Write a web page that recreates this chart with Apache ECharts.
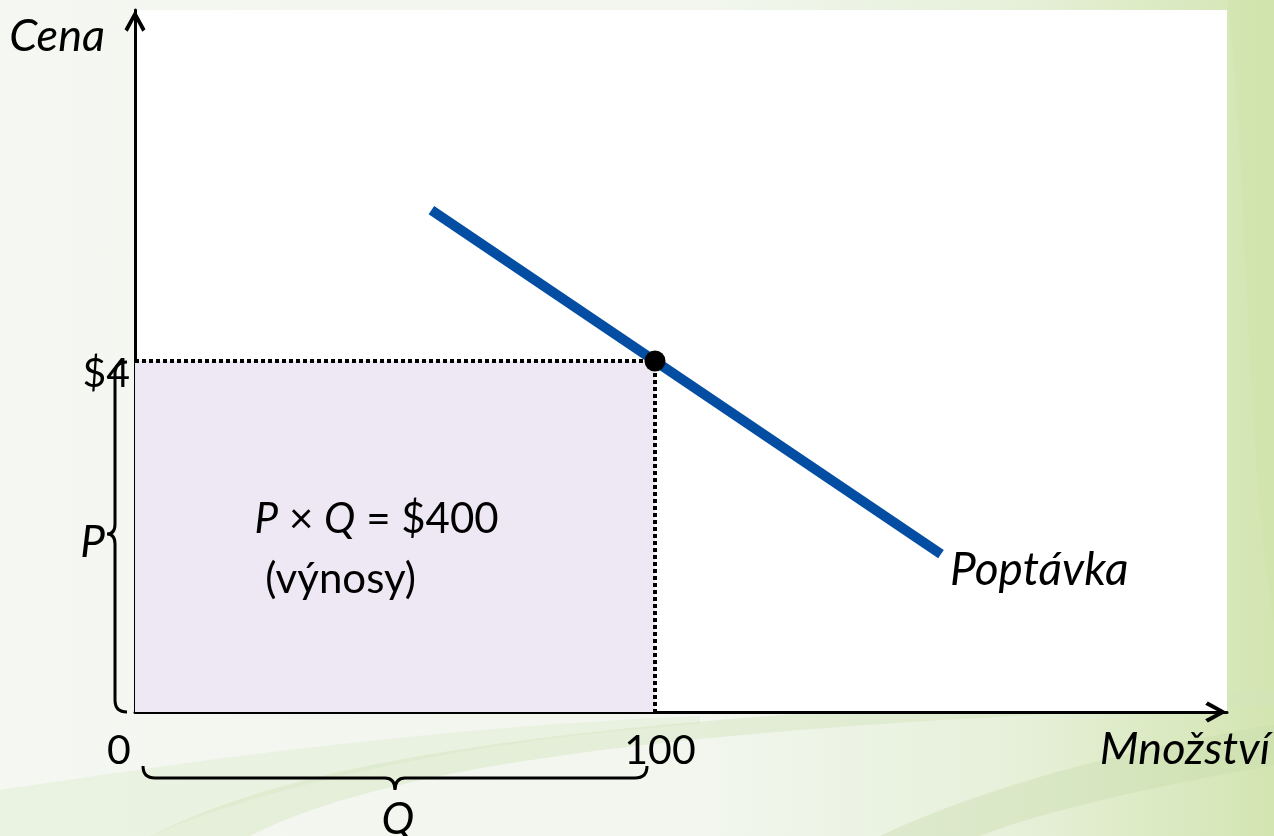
<!DOCTYPE html>
<html><head><meta charset="utf-8">
<script src="https://cdn.jsdelivr.net/npm/echarts@6/dist/echarts.min.js"></script>
<style>
html,body{margin:0;padding:0;width:1274px;height:836px;overflow:hidden;}
#chart{width:1274px;height:836px;}
</style></head><body><div id="chart"></div>
<script>
// ---- data ----
const xTickValues = [0, 100];
const xTickLabels = ['0', '100'];
const yTickValues = [4];
const yTickLabels = ['$4'];
const demandQ = [57, 155];
const demandP = [5.72, 1.8];
const eqQ = 100;
const eqP = 4;
const xMax = 210;
const yMax = 8;
const revenueLines = ['P × Q = $400', '(výnosy)'];
const xName = 'Množství';
const yName = 'Cena';
const demandName = 'Poptávka';

const FONT = 'Lato';

// decorative slide background (not data)
const bgSvg = '<svg xmlns="http://www.w3.org/2000/svg" width="1274" height="836">' +
  '<defs><linearGradient id="g" x1="0" y1="0" x2="1" y2="0">' +
  '<stop offset="0" stop-color="#f5f7f2"/><stop offset="0.55" stop-color="#f2f6ee"/><stop offset="0.8" stop-color="#e6f0d9"/><stop offset="1" stop-color="#d3e5b1"/></linearGradient></defs>' +
  '<rect width="1274" height="836" fill="url(#g)"/>' +
  '<path d="M0,836 L0,790 C200,760 420,728 700,716 L700,724 C430,742 230,800 150,836 Z" fill="#e6f0da" opacity="0.7"/>' +
  '<path d="M150,836 C300,760 560,714 1274,690 L1274,705 C620,726 370,775 250,836 Z" fill="#d3e5bc" opacity="0.45"/>' +
  '<path d="M880,836 C1000,780 1150,745 1274,725 L1274,765 C1160,785 1040,812 980,836 Z" fill="#c8ddac" opacity="0.4"/>' +
  '<path d="M1228,0 C1250,200 1245,450 1274,620 L1274,0 Z" fill="#cfe3a9" opacity="0.5"/>' +
  '</svg>';
document.getElementById('chart').style.background = 'url("data:image/svg+xml,' + encodeURIComponent(bgSvg) + '") no-repeat';

const chart = echarts.init(document.getElementById('chart'), null, {renderer: 'canvas'});

const arrowPath = 'path://M10,0 L20,18 L17,20.5 L10,7.5 L3,20.5 L0,18 Z';

function braceRender(params, api) {
  const o = api.coord([0, 0]);
  const p4 = api.coord([0, eqP]);
  const q1 = api.coord([eqQ, 0]);
  const bx = o[0] - 20, bTop = p4[1] + 1, bBot = o[1], vm = (bTop + bBot) / 2 - 3;
  const vBrace = `M${bx + 12},${bTop} Q${bx},${bTop} ${bx},${bTop + 12} L${bx},${vm - 10} Q${bx},${vm} ${bx - 8},${vm} Q${bx},${vm} ${bx},${vm + 10} L${bx},${bBot - 12} Q${bx},${bBot} ${bx + 12},${bBot}`;
  const by = o[1] + 66, bl = o[0] + 8, br = q1[0] - 8, hm = (bl + br) / 2;
  const hBrace = `M${bl},${by - 12} Q${bl},${by} ${bl + 12},${by} L${hm - 10},${by} Q${hm},${by} ${hm},${by + 12} Q${hm},${by} ${hm + 10},${by} L${br - 12},${by} Q${br},${by} ${br},${by - 12}`;
  return {
    type: 'group',
    children: [
      {type: 'path', shape: {pathData: vBrace}, style: {stroke: '#000', lineWidth: 3, fill: 'none'}},
      {type: 'path', shape: {pathData: hBrace}, style: {stroke: '#000', lineWidth: 3, fill: 'none'}},
      {type: 'text', x: bx - 10, y: vm + 9, style: {text: 'P', font: `italic 44px ${FONT}`, fill: '#000', align: 'right', verticalAlign: 'middle'}},
      {type: 'text', x: hm + 3, y: by + 42, style: {text: 'Q', font: `italic 44px ${FONT}`, fill: '#000', align: 'center', verticalAlign: 'middle'}}
    ]
  };
}

const option = {
  animation: false,
  textStyle: {fontFamily: FONT},
  grid: {left: 135, right: 47, top: 10, bottom: 124, show: true, backgroundColor: '#ffffff', borderWidth: 0},
  xAxis: {
    type: 'value', min: 0, max: xMax,
    splitLine: {show: false}, axisTick: {show: false},
    axisLine: {show: true, lineStyle: {color: '#000', width: 3}, symbol: ['none', arrowPath], symbolSize: [21, 23], symbolOffset: [0, -11]},
    axisLabel: {
      customValues: xTickValues, margin: 18, color: '#000', fontSize: 41, fontFamily: FONT,
      formatter: function (v) { const i = xTickValues.indexOf(v); return i === 0 ? '{z|' + xTickLabels[i] + '}' : '{n|' + xTickLabels[i] + '}'; },
      rich: {z: {padding: [0, 32, 0, 0], fontSize: 41, fontFamily: FONT, color: '#000'}, n: {fontSize: 41, fontFamily: FONT, color: '#000', padding: [0, 0, 0, 10]}}
    },
    name: xName, nameLocation: 'end', nameGap: 43,
    nameTextStyle: {fontSize: 45, fontStyle: 'italic', fontFamily: FONT, color: '#000', align: 'right', verticalAlign: 'top', lineHeight: 45, padding: [15, 0, 0, 0]}
  },
  yAxis: {
    type: 'value', min: 0, max: yMax,
    splitLine: {show: false}, axisTick: {show: false},
    axisLine: {show: true, lineStyle: {color: '#000', width: 3}, symbol: ['none', arrowPath], symbolSize: [21, 23], symbolOffset: [0, -11]},
    axisLabel: {
      customValues: yTickValues, margin: 5, color: '#000', fontSize: 41, fontFamily: FONT,
      formatter: function (v) { return '{a|' + yTickLabels[yTickValues.indexOf(v)] + '}'; },
      rich: {a: {padding: [26, 0, 0, 0], fontSize: 41, fontFamily: FONT, color: '#000'}}
    },
    name: yName, nameLocation: 'end', nameGap: -26,
    nameTextStyle: {fontSize: 45, fontStyle: 'italic', fontFamily: FONT, color: '#000', align: 'right', verticalAlign: 'middle', padding: [0, 30, 0, 0]}
  },
  series: [
    {
      name: 'revenue', type: 'line', data: [], silent: true,
      markArea: {silent: true, itemStyle: {color: '#ede8f3', borderWidth: 0}, data: [[{coord: [0, 0]}, {coord: [eqQ, eqP]}]]}
    },
    {
      name: 'guides', type: 'line', symbol: 'none', silent: true, z: 3,
      data: [[0, eqP], [eqQ, eqP], [eqQ, 0]],
      lineStyle: {color: '#000', width: 4, type: [4, 3]}
    },
    {
      name: demandName, type: 'line', symbol: 'none', silent: true, z: 4,
      data: demandQ.map((q, i) => [q, demandP[i]]),
      lineStyle: {color: '#034ea2', width: 10, cap: 'butt'}
    },
    {
      name: 'eq', type: 'scatter', silent: true, z: 5, symbolSize: 21,
      itemStyle: {color: '#000', opacity: 1}, data: [[eqQ, eqP]]
    },
    {
      name: 'braces', type: 'custom', silent: true, z: 6, clip: false,
      renderItem: braceRender, data: [[0, 0]]
    }
  ]
};
chart.setOption(option);

function px(x, y) { return chart.convertToPixel({gridIndex: 0}, [x, y]); }
const dEnd = px(demandQ[1], demandP[1]);
const rev = px(23, 2.18);

chart.setOption({
  graphic: [
    {type: 'text', z: 10, silent: true, x: dEnd[0] + 9, y: dEnd[1] + 16, style: {text: demandName, font: `italic 46px ${FONT}`, fill: '#000', align: 'left', verticalAlign: 'middle'}},
    {type: 'text', z: 10, silent: true, x: rev[0], y: rev[1] - 31, style: {
      text: '{i|P} × {i|Q} = $400\n {n|' + revenueLines[1] + '}',
      font: `42px ${FONT}`, fill: '#000', align: 'left', verticalAlign: 'top', lineHeight: 60,
      rich: {i: {fontStyle: 'italic', fontSize: 42, fontFamily: FONT, fill: '#000', lineHeight: 60}, n: {fontSize: 42, fontFamily: FONT, fill: '#000', lineHeight: 60}}
    }}
  ]
});
</script>
</body></html>
